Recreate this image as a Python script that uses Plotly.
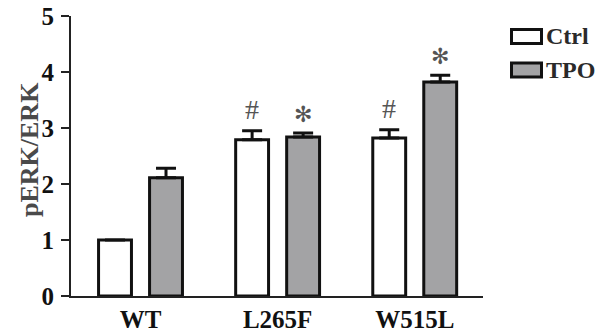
import plotly.graph_objects as go

categories = ["WT", "L265F", "W515L"]
ctrl_values = [1.0, 2.79, 2.82]
ctrl_errors = [0.0, 0.16, 0.15]
tpo_values = [2.11, 2.84, 3.82]
tpo_errors = [0.17, 0.07, 0.12]
ctrl_marks = ["", "#", "#"]
tpo_marks = ["", "✻", "✻"]
y_ticks = [0, 1, 2, 3, 4, 5]

FONT = "Liberation Serif"
OX, OY = 0, 0  # page body margin removed via post_script
W, H = 605, 332
L, T = 71 - OX, 16 - OY
R = OX + W - 483
B = OY + H - 296
PW, PH = W - L - R, H - T - B


def px(x):
    return (x - OX - L) / PW


def py(y):
    return (OY + H - B - y) / PH


fig = go.Figure()
fig.add_trace(go.Bar(
    x=categories, y=ctrl_values, name="Ctrl",
    marker=dict(color="white", line=dict(color="#111111", width=3)),
    error_y=dict(type="data", array=ctrl_errors, arrayminus=[0]*3, symmetric=False,
                 color="#111111", thickness=3, width=10, visible=True),
    showlegend=False,
))
fig.add_trace(go.Bar(
    x=categories, y=tpo_values, name="TPO",
    marker=dict(color="#a3a3a5", line=dict(color="#111111", width=3)),
    error_y=dict(type="data", array=tpo_errors, arrayminus=[0]*3, symmetric=False,
                 color="#111111", thickness=3, width=10, visible=True),
    showlegend=False,
))

annotations = []
for i, c in enumerate(categories):
    if ctrl_marks[i]:
        annotations.append(dict(x=c, y=ctrl_values[i] + ctrl_errors[i], xref="x", yref="y",
                                text=ctrl_marks[i], showarrow=False, xshift=-25.5,
                                yanchor="bottom", yshift=4,
                                font=dict(family=FONT, size=28, color="#555555")))
    if tpo_marks[i]:
        annotations.append(dict(x=c, y=tpo_values[i] + tpo_errors[i], xref="x", yref="y",
                                text=tpo_marks[i], showarrow=False, xshift=25.5,
                                yanchor="bottom", yshift=4,
                                font=dict(family="DejaVu Sans", size=22, color="#555555")))

# y-axis title
annotations.append(dict(x=px(29), y=py(150), xref="paper", yref="paper",
                        xanchor="center", yanchor="middle",
                        text="<b>pERK/ERK</b>", textangle=-90, showarrow=False,
                        font=dict(family=FONT, size=26, color="#4a4a4a")))

# legend
legend_items = [("Ctrl", "white", 36.5), ("TPO", "#a3a3a5", 70)]
shapes = []
for name, color, cy in legend_items:
    x0, x1 = 511.5, 541.5
    y0, y1 = cy - 7, cy + 7
    shapes.append(dict(type="rect", xref="paper", yref="paper",
                       x0=px(x0), x1=px(x1), y0=py(y1), y1=py(y0),
                       fillcolor=color, line=dict(color="#111111", width=3)))
    annotations.append(dict(x=px(544), y=py(cy), xref="paper", yref="paper",
                            text="<b>" + name + "</b>", showarrow=False, xanchor="left",
                            yanchor="middle",
                            font=dict(family=FONT, size=24, color="#2a2a2a")))

fig.update_layout(
    width=W, height=H,
    margin=dict(l=L, r=R, t=T, b=B, pad=0, autoexpand=False),
    paper_bgcolor="white", plot_bgcolor="white",
    barmode="group", bargap=0.256, bargroupgap=0.355,
    annotations=annotations, shapes=shapes,
    showlegend=False,
)
fig.update_xaxes(
    range=[-0.507, 2.498], showline=True, linecolor="#222222", linewidth=2,
    ticks="", showgrid=False, zeroline=False, automargin=False,
    tickfont=dict(family=FONT, size=25, color="#111111"),
    ticklabelstandoff=0, ticklabeloverflow="allow",
    tickvals=categories, ticktext=["<b>" + c + "</b>" for c in categories],
)
fig.update_yaxes(
    range=[0, 5], showline=True, linecolor="#222222", linewidth=2,
    ticks="outside", ticklen=8, tickwidth=2, tickcolor="#222222",
    tickvals=y_ticks, ticktext=["<b>%d</b>" % v for v in y_ticks],
    showgrid=False, zeroline=False, automargin=False,
    tickfont=dict(family=FONT, size=25, color="#111111"),
    ticklabelstandoff=2, ticklabeloverflow="allow",
)

fig.write_html(
    "out.html",
    config={"displayModeBar": False},
    post_script="document.body.style.margin='0px';document.body.style.overflow='hidden';",
)
